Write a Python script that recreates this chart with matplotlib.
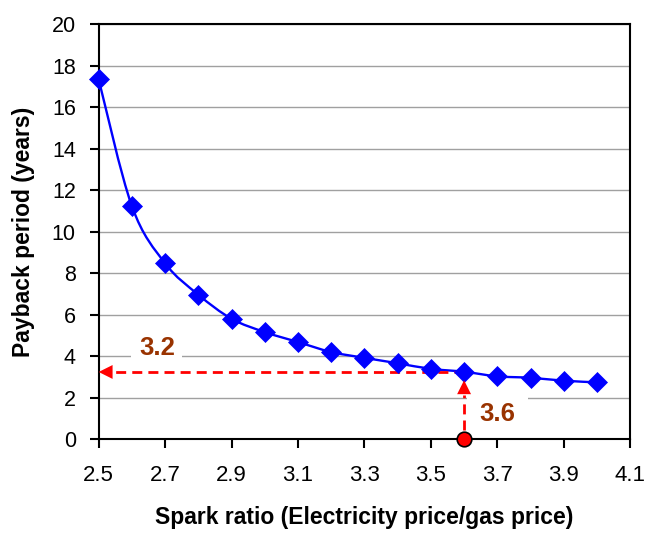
"""Payback period vs spark ratio"""
import numpy as np
import matplotlib
matplotlib.use('Agg')
import matplotlib.pyplot as plt
from matplotlib.path import Path
from matplotlib.patches import PathPatch

plt.rcParams['font.family'] = ['Liberation Sans', 'DejaVu Sans']

# data
spark_ratio = [2.5, 2.6, 2.7, 2.8, 2.9, 3.0, 3.1, 3.2,
               3.3, 3.4, 3.5, 3.6, 3.7, 3.8, 3.9, 4.0]
payback_years = [17.33, 11.23, 8.48, 6.97, 5.81, 5.17, 4.69, 4.21,
                 3.93, 3.67, 3.40, 3.26, 3.04, 2.97, 2.83, 2.75]

# operating point highlighted with arrows
target_ratio = 3.6
target_payback = 3.25
target_labels = ['3.2', '3.6']

x_ticks = [2.5, 2.7, 2.9, 3.1, 3.3, 3.5, 3.7, 3.9, 4.1]
y_ticks = list(range(0, 21, 2))

BLUE = '#0000ff'
RED = '#ff0000'
BROWN = '#993300'


def smooth_path(xs, ys):
    """Гладкая кривая через точки (кубические Безье, как в Excel)"""
    pts = np.column_stack([xs, ys])
    n = len(pts)
    verts = [pts[0]]
    codes = [Path.MOVETO]
    for i in range(n - 1):
        p0 = pts[max(i - 1, 0)]
        p1 = pts[i]
        p2 = pts[i + 1]
        p3 = pts[min(i + 2, n - 1)]
        verts += [p1 + (p2 - p0) / 6, p2 - (p3 - p1) / 6, p2]
        codes += [Path.CURVE4] * 3
    return Path(verts, codes)


fig = plt.figure(figsize=(6.45, 5.34), dpi=100)
ax = fig.add_axes([0.153, 0.177, 0.824, 0.778])

ax.add_patch(PathPatch(smooth_path(spark_ratio, payback_years),
                       fill=False, edgecolor=BLUE, linewidth=1.7, zorder=4))
ax.plot(spark_ratio, payback_years, linestyle='none', marker='D',
        markersize=10.5, color=BLUE, markeredgewidth=0.5, zorder=5,
        clip_on=False)

# dashed guide lines
dash = (0, (3.6, 2.2))
ax.plot([target_ratio, 2.545], [target_payback, target_payback],
        color=RED, linewidth=2, linestyle=dash, zorder=4)
ax.plot([target_ratio, target_ratio], [0.45, 2.15],
        color=RED, linewidth=2, linestyle=dash, zorder=4)
head = dict(arrowstyle='-|>,head_length=1.0,head_width=0.5',
            mutation_scale=10, color=RED, lw=0, shrinkA=0, shrinkB=0)
ax.annotate('', xy=(2.5, target_payback), xytext=(2.55, target_payback),
            arrowprops=head, zorder=6)
ax.annotate('', xy=(target_ratio, 2.85), xytext=(target_ratio, 2.1),
            arrowprops=head, zorder=6)
ax.plot([target_ratio], [0], marker='o', markersize=10.5, color=RED,
        markeredgecolor='black', markeredgewidth=1.2,
        clip_on=False, zorder=7)

ax.text(2.675, 4.4, target_labels[0], color=BROWN, fontsize=18.5,
        fontweight='bold', ha='center', va='center', zorder=2.4,
        bbox=dict(boxstyle='square,pad=0.3', fc='white', ec='none'))
ax.text(3.70, 1.22, target_labels[1], color=BROWN, fontsize=18.5,
        fontweight='bold', ha='center', va='center', zorder=2.4,
        bbox=dict(boxstyle='square,pad=0.5', fc='white', ec='none'))

ax.set_xlim(2.5, 4.1)
ax.set_ylim(0, 20)
ax.set_xticks(x_ticks)
ax.set_xticklabels([f'{t:.1f}' for t in x_ticks])
ax.set_yticks(y_ticks)
ax.yaxis.grid(True, color='#a0a0a0', linewidth=1.0)
ax.set_axisbelow(True)

for s in ax.spines.values():
    s.set_linewidth(1.5)
ax.tick_params(axis='both', direction='out', length=6.5, width=1.5)
ax.tick_params(axis='x', pad=12, labelsize=16)
ax.tick_params(axis='y', pad=10, labelsize=15.5)

ax.set_xlabel('Spark ratio (Electricity price/gas price)',
              fontsize=16.5, fontweight='bold', labelpad=14)
ax.set_ylabel('Payback period (years)', fontsize=16.5, fontweight='bold',
              labelpad=12)

plt.savefig('out.png', dpi=100)
plt.close()
